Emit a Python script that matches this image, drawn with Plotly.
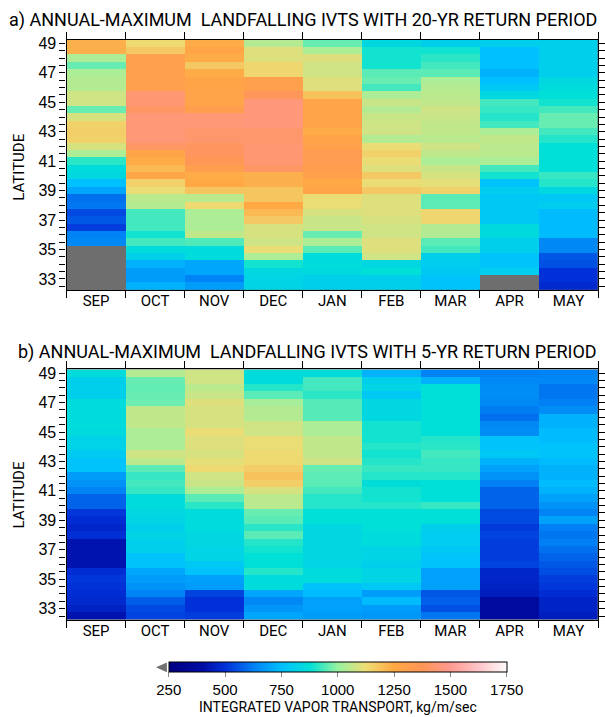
import plotly.graph_objects as go
import numpy as np

months = ["SEP", "OCT", "NOV", "DEC", "JAN", "FEB", "MAR", "APR", "MAY"]
# latitude rows, listed from north (49) to south (32.5)
lats = [49 - 0.5 * i for i in range(34)]
N = None

# panel a: 20-yr return period, values per month (north -> south)
a_sep = [1230,1230,1030,960,1030,1040,1040,1080,1080,960,1090,1150,1160,1150,1090,1030,910,860,840,750,700,600,610,540,560,520,630,640,N,N,N,N,N,N]
a_oct = [1130,1170,1300,1300,1300,1300,1300,1430,1430,1400,1440,1440,1440,1440,1400,1280,1240,1210,1260,1150,1120,1050,1040,930,930,930,890,930,860,810,720,680,680,720]
a_nov = [1240,1270,1240,1170,1240,1270,1270,1280,1280,1310,1440,1440,1420,1420,1390,1390,1370,1310,1240,1250,1180,1050,1130,1030,1030,1030,1060,940,860,860,700,700,630,680]
a_dec = [1040,1100,1100,1140,1140,1300,1300,1380,1450,1450,1450,1450,1420,1420,1430,1430,1430,1400,1230,1230,1180,1180,1250,1210,1170,1090,1090,1080,1120,1030,890,840,830,830]
a_jan = [960,1030,1100,1080,1080,1100,1100,1190,1280,1280,1280,1280,1240,1280,1300,1330,1330,1320,1300,1250,1280,1120,1120,1090,1070,1070,960,1030,950,860,860,850,810,810]
a_feb = [840,890,890,890,950,960,930,1030,1070,1040,1070,1080,1080,1040,1120,1150,1120,1100,1170,1120,1170,1100,1100,1100,1090,1080,1080,1100,1100,1080,840,870,810,810]
a_mar = [810,890,910,930,950,1030,1040,1050,1060,1080,1070,1060,1060,1050,1080,1060,1030,1070,1090,1110,1150,950,950,1140,1140,1040,1040,950,930,810,800,780,760,760]
a_apr = [810,750,750,750,720,750,780,840,930,920,905,930,1030,1060,1050,1050,1030,930,890,760,800,780,780,780,780,850,850,810,810,760,760,800,N,N]
a_may = [810,810,810,810,810,840,860,870,890,930,960,960,930,905,870,870,870,870,920,905,840,780,800,740,740,740,740,640,640,560,550,500,500,480]

# panel b: 5-yr return period
b_sep = [860,810,810,810,860,860,860,860,850,820,820,790,760,760,680,660,630,580,580,510,490,470,495,420,420,420,420,490,510,500,490,480,460,420]
b_oct = [1040,960,955,960,965,1060,1060,1060,1030,1030,1030,1080,1050,950,920,930,920,860,860,840,830,810,830,810,810,760,760,700,680,660,630,570,540,530]
b_nov = [1080,1080,1050,1070,1100,1090,1090,1090,1120,1100,1100,1090,1110,1130,1080,1070,1030,950,910,860,860,860,840,840,830,830,780,760,690,680,530,500,500,520]
b_dec = [860,860,905,950,1020,1040,1040,1080,1080,1120,1120,1130,1130,1160,1190,1160,1090,1050,1050,960,950,910,950,905,890,870,870,905,860,860,700,640,670,700]
b_jan = [860,930,930,910,945,945,945,1030,1030,1060,1060,1060,1080,960,950,950,930,905,905,870,870,840,840,840,840,840,830,860,860,760,740,690,690,680]
b_feb = [720,810,830,780,840,840,840,890,890,890,905,890,905,920,905,865,890,890,905,870,870,870,860,860,830,830,810,830,830,780,680,740,680,670]
b_mar = [630,720,870,870,870,870,870,870,870,905,910,930,920,920,905,870,870,870,920,870,870,810,800,800,780,760,760,690,690,690,560,575,550,610]
b_apr = [625,640,650,650,640,620,600,640,650,760,760,780,720,690,660,625,580,580,580,540,540,515,530,520,520,520,530,470,470,460,450,380,380,380]
b_may = [630,640,610,610,625,650,720,720,740,740,760,760,740,720,720,740,720,690,660,630,690,625,610,625,600,580,560,545,520,510,490,465,465,450]

cb_ticks = [250, 500, 750, 1000, 1250, 1500, 1750]
CMIN, CMAX = 250, 1750

def to_grid(cols):
    arr = np.array([[np.nan if v is None else v for v in c] for c in cols], dtype=float)
    return arr.T  # rows = lats, cols = months

za = to_grid([a_sep, a_oct, a_nov, a_dec, a_jan, a_feb, a_mar, a_apr, a_may])
zb = to_grid([b_sep, b_oct, b_nov, b_dec, b_jan, b_feb, b_mar, b_apr, b_may])

colorscale = [
    [0.0, "#000080"],
    [0.10, "#000ca4"],
    [0.1667, "#0030d8"],
    [0.25, "#0080f4"],
    [0.3333, "#00c0ff"],
    [0.4167, "#00e0d6"],
    [0.5, "#98f2a0"],
    [0.5833, "#eedc74"],
    [0.6667, "#ffa844"],
    [0.75, "#ff9658"],
    [0.8333, "#ff9a92"],
    [0.9167, "#ffc6c8"],
    [1.0, "#fffafa"],
]

W, H = 605, 717
def px_x(p): return p / W
def px_y(p): return 1 - p / H

xs = list(range(len(months)))
fig = go.Figure()
fig.add_trace(go.Heatmap(z=za, x=xs, y=lats, coloraxis="coloraxis", xaxis="x", yaxis="y",
                         hoverongaps=False))
fig.add_trace(go.Heatmap(z=zb, x=xs, y=lats, coloraxis="coloraxis", xaxis="x2", yaxis="y2",
                         hoverongaps=False))
# empty helper traces so the month-label axes get drawn
fig.add_trace(go.Scatter(x=xs, y=[None] * len(xs), xaxis="x3", yaxis="y", mode="lines",
                         showlegend=False, hoverinfo="skip"))
fig.add_trace(go.Scatter(x=xs, y=[None] * len(xs), xaxis="x4", yaxis="y2", mode="lines",
                         showlegend=False, hoverinfo="skip"))

cond = "Roboto, Liberation Sans, sans-serif"
sans = "Liberation Sans, Arial, sans-serif"

ytickvals = lats[::-1]
yticktext = [str(int(v)) if (v == int(v) and int(v) % 2 == 1) else "" for v in ytickvals]
bounds = [i - 0.5 for i in range(len(months) + 1)]

def xaxis_cfg(dom):
    # month-boundary ticks on both top and bottom edges
    return dict(domain=dom, range=[-0.5, 8.5], tickvals=bounds, ticktext=[""] * len(bounds),
                ticks="outside", ticklen=7, tickcolor="black", tickwidth=1,
                showline=True, linecolor="black", linewidth=1.3, mirror="ticks",
                showgrid=False, zeroline=False)

def xlabel_cfg(over, anchor):
    return dict(overlaying=over, anchor=anchor, side="bottom", range=[-0.5, 8.5],
                tickvals=xs, ticktext=months, ticks="", showline=False, showgrid=False,
                zeroline=False,
                tickfont=dict(family=cond, size=15, color="black"))

def yaxis_cfg(dom):
    return dict(domain=dom, range=[32.25, 49.25], tickvals=ytickvals, ticktext=yticktext,
                ticks="outside", ticklen=6, tickcolor="black", tickwidth=1,
                showline=True, linecolor="black", linewidth=1.3, mirror="ticks",
                showgrid=False, zeroline=False,
                tickfont=dict(family=sans, size=16, color="black"))

xd = [px_x(67), px_x(602)]
fig.update_layout(
    width=W, height=H, margin=dict(l=0, r=0, t=0, b=0),
    paper_bgcolor="white", plot_bgcolor="#6e6e6e",
    xaxis=dict(**xaxis_cfg(xd), anchor="y"),
    yaxis=dict(**yaxis_cfg([px_y(287), px_y(35)]), anchor="x"),
    xaxis2=dict(**xaxis_cfg(xd), anchor="y2"),
    yaxis2=dict(**yaxis_cfg([px_y(619), px_y(367)]), anchor="x2"),
    xaxis3=xlabel_cfg("x", "y"),
    xaxis4=xlabel_cfg("x2", "y2"),
    coloraxis=dict(
        cmin=CMIN, cmax=CMAX, colorscale=colorscale,
        colorbar=dict(orientation="h", x=px_x(340), xanchor="center", y=px_y(662), yanchor="top",
                      len=340 / W, lenmode="fraction", thickness=10, thicknessmode="pixels",
                      outlinecolor="black", outlinewidth=1,
                      tickvals=cb_ticks, ticks="outside", ticklen=5, tickcolor="#888888", tickwidth=1,
                      tickfont=dict(family=sans, size=15, color="black"),
                      xpad=0, ypad=0),
    ),
    showlegend=False,
)

annos = [
    dict(text="a) ANNUAL-MAXIMUM  LANDFALLING IVTS WITH 20-YR RETURN PERIOD", x=px_x(603), y=px_y(15),
         xanchor="right", yanchor="middle", font=dict(family=cond, size=18, color="black")),
    dict(text="b) ANNUAL-MAXIMUM  LANDFALLING IVTS WITH 5-YR RETURN PERIOD", x=px_x(603), y=px_y(349),
         xanchor="right", yanchor="middle", font=dict(family=cond, size=18, color="black")),
    dict(text="LATITUDE", x=px_x(19), y=px_y(163), textangle=-90, xanchor="center", yanchor="middle",
         font=dict(family=cond, size=15, color="black")),
    dict(text="LATITUDE", x=px_x(19), y=px_y(493), textangle=-90, xanchor="center", yanchor="middle",
         font=dict(family=cond, size=15, color="black")),
    dict(text="INTEGRATED VAPOR TRANSPORT, kg/m/sec", x=px_x(340), y=px_y(707),
         xanchor="center", yanchor="middle", font=dict(family=cond, size=14, color="black")),
]
for a in annos:
    a.update(xref="paper", yref="paper", showarrow=False)
fig.update_layout(annotations=annos)

# colorbar decorations: under-range triangle and black dividers at each interior tick value
cb_x0, cb_x1, cb_top, cb_bot = px_x(170), px_x(510), px_y(662), px_y(672)
shapes = [dict(type="path", xref="paper", yref="paper",
               path=f"M {px_x(168)} {cb_top} L {px_x(168)} {cb_bot} L {px_x(157)} {(cb_top + cb_bot) / 2} Z",
               fillcolor="#707070", line=dict(width=0))]
for t in cb_ticks[1:-1]:
    xx = cb_x0 + (t - CMIN) / (CMAX - CMIN) * (cb_x1 - cb_x0)
    shapes.append(dict(type="line", xref="paper", yref="paper", x0=xx, x1=xx, y0=cb_bot, y1=cb_top,
                       line=dict(color="black", width=1)))
fig.update_layout(shapes=shapes)

fig.write_html("out.html")
